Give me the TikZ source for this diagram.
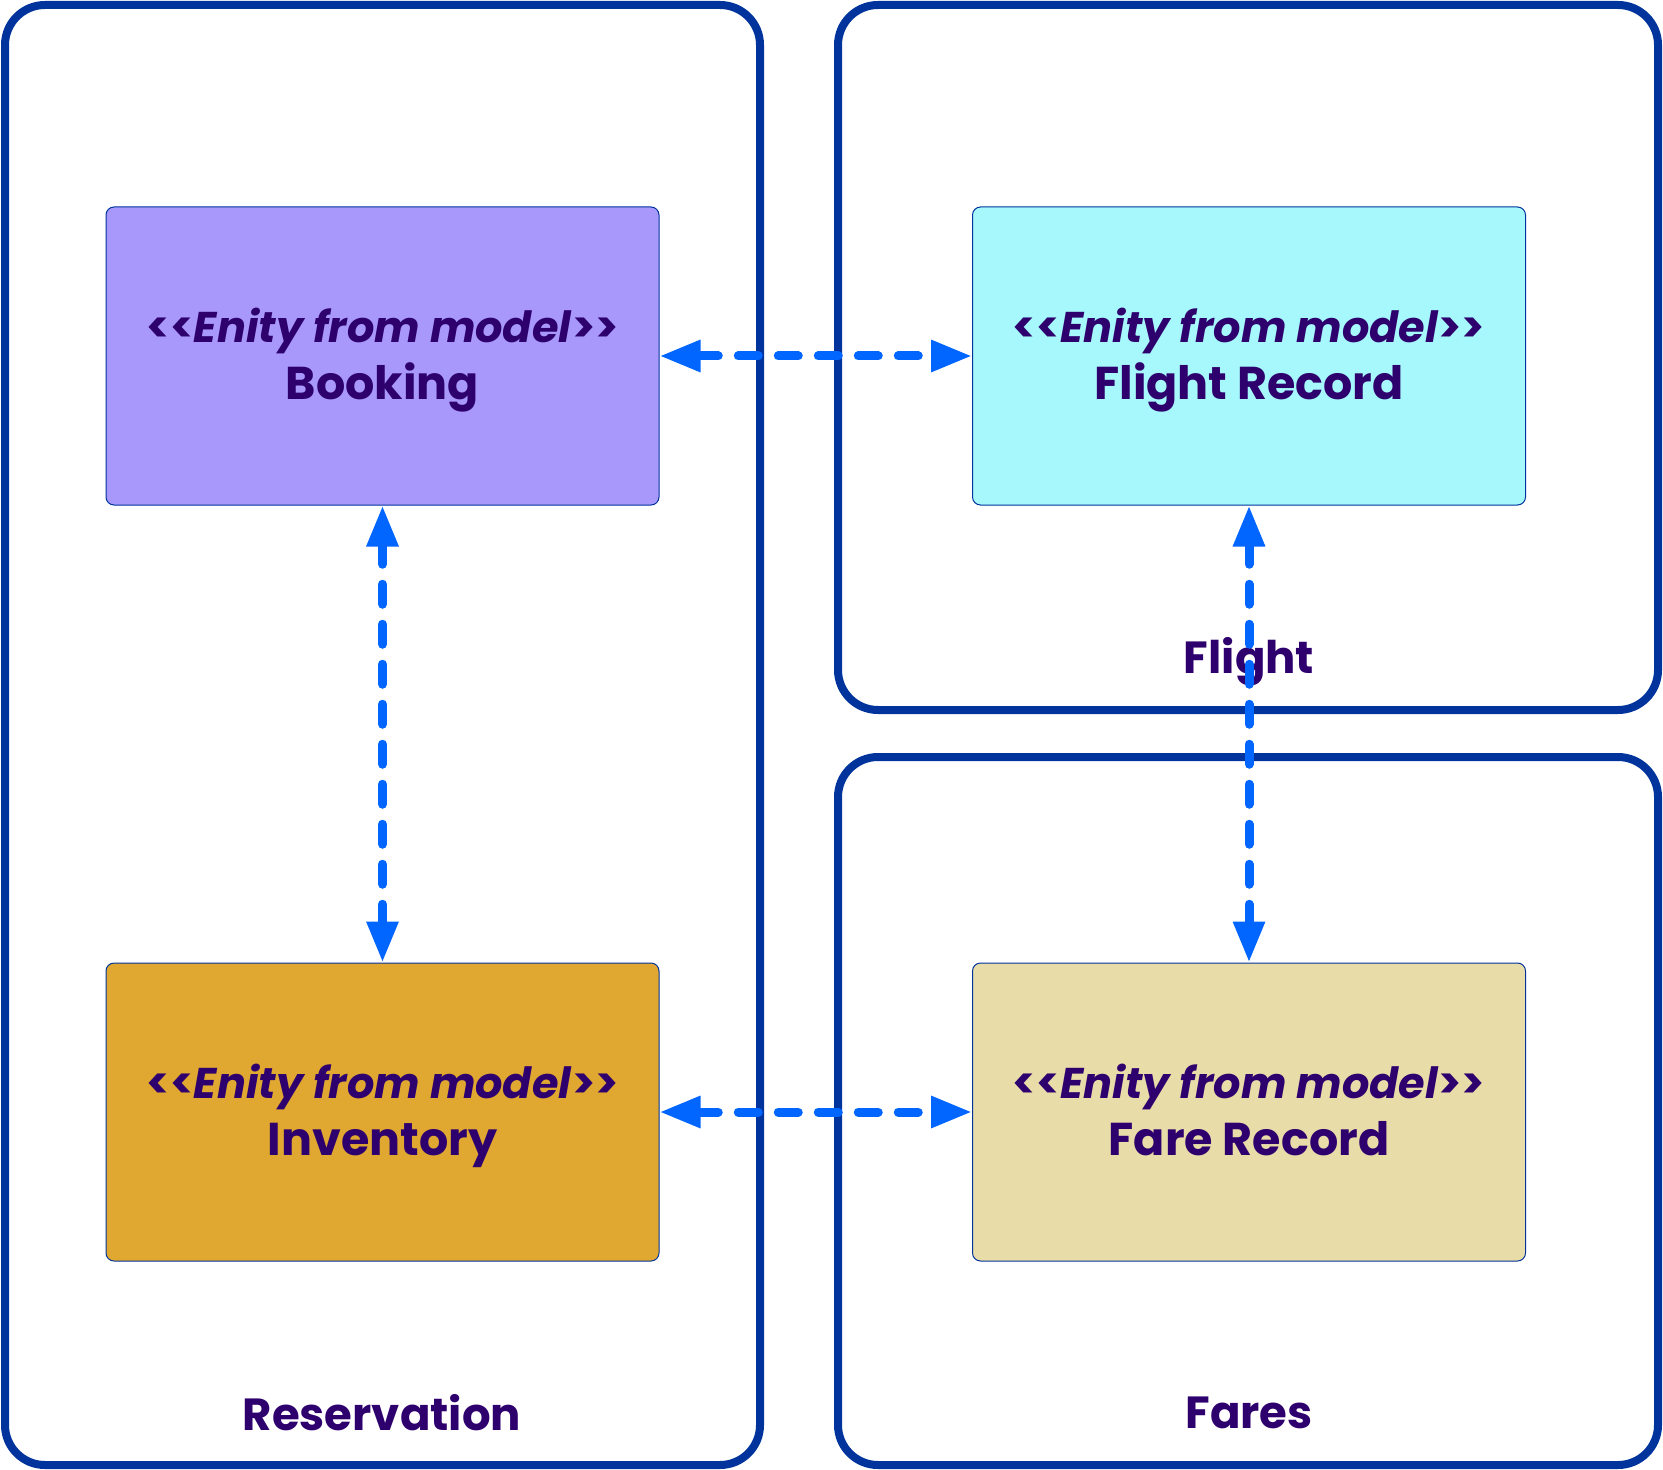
\documentclass[tikz,border=0pt]{standalone}
\usepackage{fontspec}
\setmainfont{Poppins}[Ligatures=TeXOff]
\usetikzlibrary{arrows.meta}
\definecolor{framecol}{HTML}{00339C}
\definecolor{textcol}{HTML}{2E006E}
\definecolor{linkcol}{HTML}{0066FF}
\definecolor{bookingcol}{HTML}{A898FC}
\definecolor{flightcol}{HTML}{A6F8FC}
\definecolor{inventorycol}{HTML}{E0A830}
\definecolor{farecol}{HTML}{E8DCA8}
\newcommand{\stereo}{{\fontsize{21.5}{28.5}\selectfont<<\textit{Enity from model}>>}}
\tikzset{
  area/.style={draw=framecol, line width=4pt, rounded corners=20pt},
  arealabel/.style={text=textcol, font=\fontsize{22.5}{26}\selectfont\bfseries},
  entity/.style={draw=framecol, line width=0.5pt, rounded corners=4pt,
    minimum width=276.5pt, minimum height=149pt, align=center, text depth=2.5pt,
    text=textcol, font=\fontsize{23}{28.5}\selectfont\bfseries},
  link/.style={draw=linkcol, line width=4.5pt, line cap=round,
    dash pattern=on 10pt off 10pt,
    {Triangle[length=20.5pt,width=15pt]}-{Triangle[length=20.5pt,width=15pt]}}
}
\begin{document}
\begin{tikzpicture}[x=0.5pt,y=-0.5pt]
            \useasboundingbox (0,0) rectangle (1663,1470);
            % areas
            \draw[area] (5,5) rectangle (760,1465);
            \draw[area] (838,5) rectangle (1658,710);
            \draw[area] (838,757) rectangle (1658,1465);
            \node[arealabel](resv) at (382,1413) {Reservation};
            \node[arealabel](flight) at (1249,662) {Flight};
            \node[arealabel](fares) at (1249,1413) {Fares};
            % entities
            \node[entity, fill=bookingcol](booking) at (382.5,356) {\stereo\\Booking};
            \node[entity, fill=flightcol](flightrec) at (1249,356) {\stereo\\Flight Record};
            \node[entity, fill=inventorycol](inventory) at (382.5,1112) {\stereo\\Inventory};
            \node[entity, fill=farecol](farerec) at (1249,1112) {\stereo\\Fare Record};
            % links
            \draw[link] (booking) -- (flightrec);
            \draw[link] (booking) -- (inventory);
            \draw[link] (inventory) -- (farerec);
            \draw[link] (flightrec) -- (farerec);
        \end{tikzpicture}
\end{document}
